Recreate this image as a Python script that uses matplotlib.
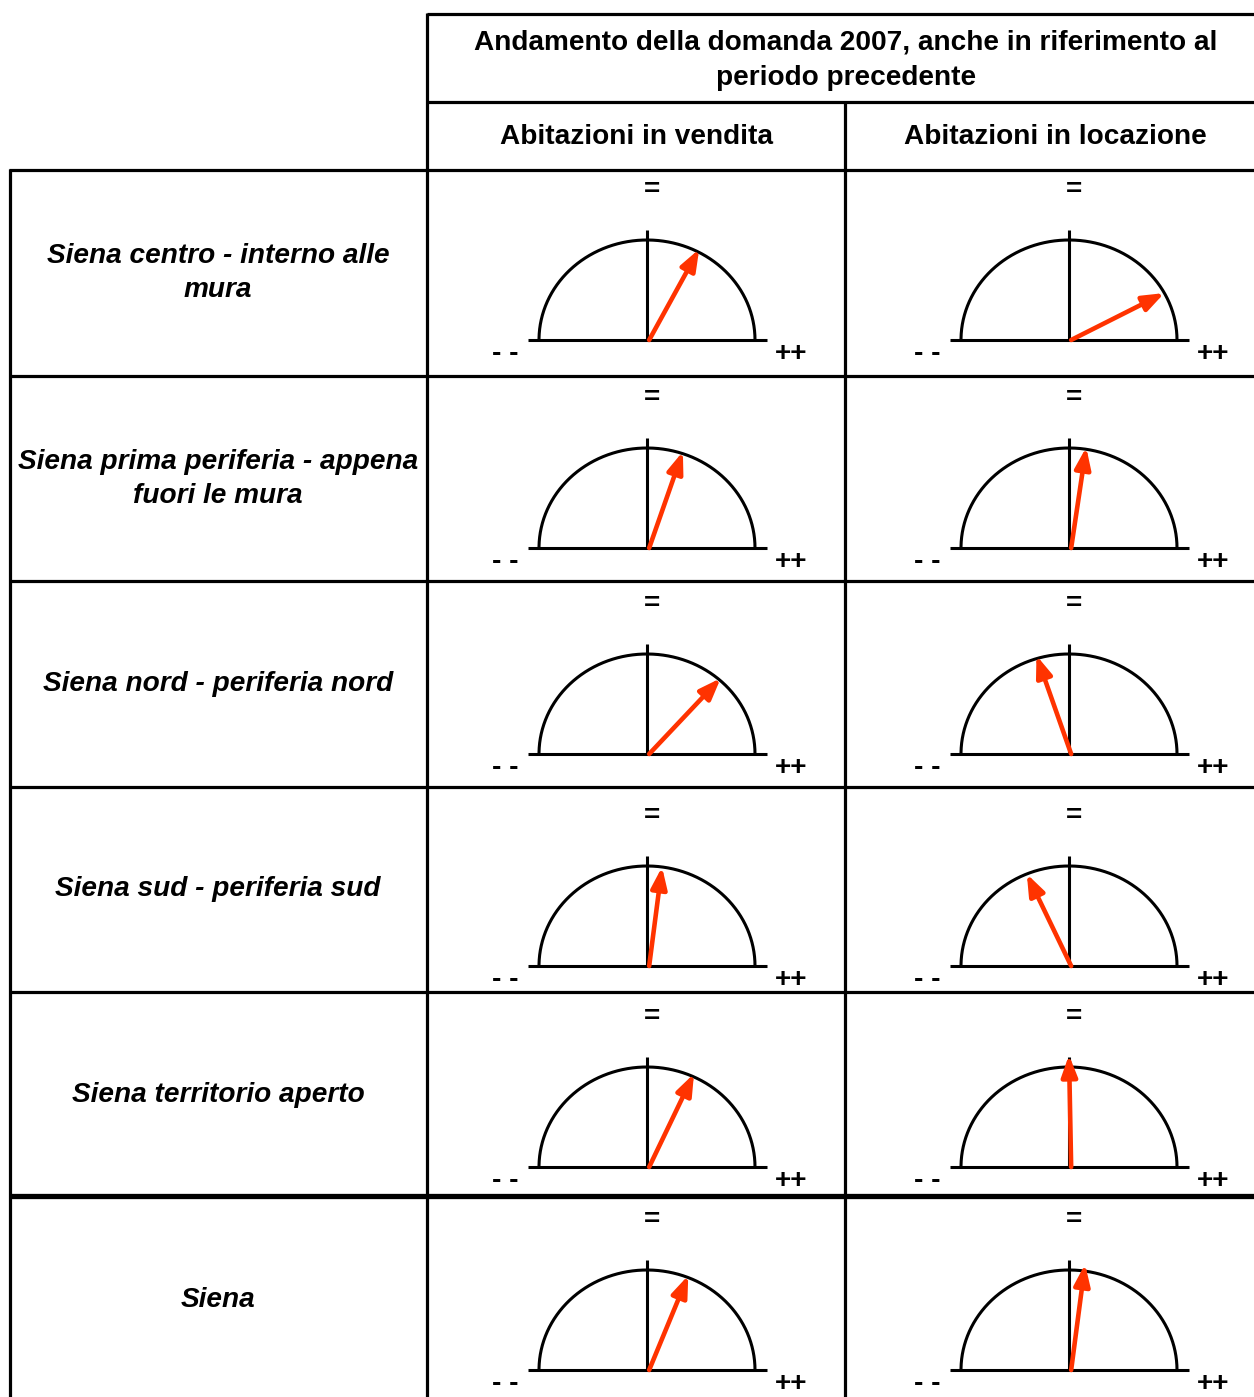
import numpy as np
import matplotlib
matplotlib.use("Agg")
import matplotlib.pyplot as plt

plt.rcParams['font.family'] = ['Liberation Sans', 'DejaVu Sans']

# ---- data ----
header_title = "Andamento della domanda 2007, anche in riferimento al\nperiodo precedente"
column_labels = ["Abitazioni in vendita", "Abitazioni in locazione"]
row_labels = [
    "Siena centro - interno alle\nmura",
    "Siena prima periferia - appena\nfuori le mura",
    "Siena nord - periferia nord",
    "Siena sud - periferia sud",
    "Siena territorio aperto",
    "Siena",
]
# arrow direction in degrees (0 = "++", 90 = "=", 180 = "- -")
vendita_angle = [62, 71, 48, 82, 65, 68]
locazione_angle = [28, 81, 107, 113, 90, 82]
# arrow length relative to the arc radius
vendita_len = [1.03, 1.02, 1.02, 1.0, 1.03, 1.02]
locazione_len = [1.0, 1.02, 1.03, 1.0, 1.12, 1.07]
scale_labels = ["- -", "=", "++"]

# ---- layout (pixels) ----
W, H = 1254, 1397
fig = plt.figure(figsize=(W / 100, H / 100), dpi=100)
bg = fig.add_axes([0, 0, 1, 1])
bg.set_xlim(0, W)
bg.set_ylim(H, 0)
bg.axis('off')

row_y = [170, 376, 581, 787, 992, 1196, 1397]
lw = 2.3
k = 'black'
bg.plot([427, W], [14, 14], color=k, lw=lw, solid_capstyle='butt')
bg.plot([427, W], [102, 102], color=k, lw=lw, solid_capstyle='butt')
bg.plot([9, W], [170, 170], color=k, lw=lw, solid_capstyle='butt')
for i, y in enumerate(row_y[1:-1]):
    bg.plot([9, W], [y, y], color=k, lw=3.8 if i == 4 else lw, solid_capstyle='butt')
bg.plot([427, 427], [13, H], color=k, lw=lw, solid_capstyle='butt')
bg.plot([845, 845], [101, H], color=k, lw=lw, solid_capstyle='butt')
bg.plot([10, 10], [169, H], color=k, lw=lw, solid_capstyle='butt')

fs = 20.2
bg.text(846, 60, header_title, ha='center', va='center', fontsize=fs,
        fontweight='bold', linespacing=1.46)
bg.text(637, 137, column_labels[0], ha='center', va='center', fontsize=fs, fontweight='bold')
bg.text(1055, 137, column_labels[1], ha='center', va='center', fontsize=fs, fontweight='bold')

label_y = [273, 479, 684, 889, 1095, 1300]
for lab, y in zip(row_labels, label_y):
    bg.text(218, y, lab, ha='center', va='center', fontsize=fs,
            fontweight='bold', fontstyle='italic', linespacing=1.42)

gauge_cx = [647, 1069]
gauge_base = [340, 548, 754, 966, 1167, 1370]
rx, ry = 108, 100
x_lo, x_hi, y_lo, y_hi = -1.5, 1.5, -0.3, 1.7

def gauge(cx, base, angle, length):
    left = cx + x_lo * rx
    right = cx + x_hi * rx
    top = base - y_hi * ry
    bottom = base - y_lo * ry
    ax = fig.add_axes([left / W, 1 - bottom / H, (right - left) / W, (bottom - top) / H])
    ax.set_xlim(x_lo, x_hi)
    ax.set_ylim(y_lo, y_hi)
    ax.axis('off')
    t = np.linspace(0, np.pi, 200)
    ax.plot(np.cos(t), np.sin(t), color=k, lw=2.2)
    ax.plot([-1.1, 1.11], [0, 0], color=k, lw=2.2, solid_capstyle='butt')
    ax.plot([0, 0], [0, 1.1], color=k, lw=2.2, solid_capstyle='butt')
    a = np.deg2rad(angle)
    ax.annotate('', xy=(length * np.cos(a), length * np.sin(a)), xytext=(0.02, 0),
                arrowprops=dict(arrowstyle='-|>,head_length=0.8,head_width=0.3',
                                color='#FF3300', lw=3.3, mutation_scale=16,
                                shrinkA=0, shrinkB=0))
    ax.text(-1.31, -0.14, scale_labels[0], ha='center', va='center', fontsize=fs, fontweight='bold')
    ax.text(0.05, 1.5, scale_labels[1], ha='center', va='center', fontsize=fs, fontweight='bold')
    ax.text(1.33, -0.14, scale_labels[2], ha='center', va='center', fontsize=fs, fontweight='bold')

for r in range(6):
    gauge(gauge_cx[0], gauge_base[r], vendita_angle[r], vendita_len[r])
    gauge(gauge_cx[1], gauge_base[r], locazione_angle[r], locazione_len[r])

fig.savefig('out.png', dpi=100)
